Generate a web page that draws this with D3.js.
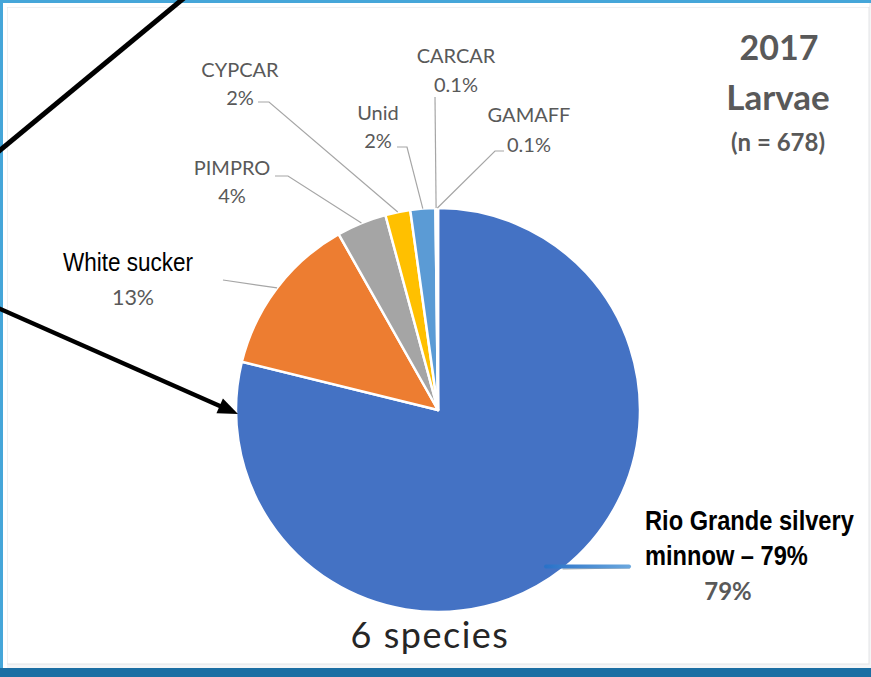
<!DOCTYPE html>
<html>
<head>
<meta charset="utf-8">
<script src="https://cdn.jsdelivr.net/npm/d3@7"></script>
<style>
  html, body { margin: 0; padding: 0; background: #ffffff; }
  svg { display: block; }
</style>
</head>
<body>
<svg id="chart" width="871" height="677"></svg>
<script>
// Larval fish catch composition, 2017
const species = ["Rio Grande silvery minnow", "White sucker", "PIMPRO", "CYPCAR", "Unid", "CARCAR", "GAMAFF"];
const percents = [79, 13, 4, 2, 2, 0.1, 0.1];
const percentLabels = ["79%", "13%", "4%", "2%", "2%", "0.1%", "0.1%"];
const sliceColors = ["#4472C4", "#ED7D31", "#A5A5A5", "#FFC000", "#5B9BD5", "#264478", "#9E480E"];

const titleLines = ["2017", "Larvae", "(n = 678)"];
const footnote = "6 species";

// Label placement: name/percent anchor and leader elbow for each slice
const labelLayout = [
  { x: 728, nameY: 530, pctY: 600, elbow: [[630, 568]] },
  { x: 133, nameY: 271, pctY: 305, elbow: [[223, 280]] },
  { x: 232, nameY: 175, pctY: 203, elbow: [[275, 176], [288, 176]] },
  { x: 240, nameY: 77,  pctY: 105, elbow: [[258, 102], [269, 102]] },
  { x: 378, nameY: 120, pctY: 148, elbow: [[397, 147], [407, 147]] },
  { x: 456, nameY: 63,  pctY: 92,  elbow: [[435, 97]] },
  { x: 529, nameY: 122, pctY: 152, elbow: [[504, 151], [495, 151]] }
];

const svg = d3.select("#chart");
const W = 871, H = 677;

// Slide frame
svg.append("rect").attr("x", 0).attr("y", 0).attr("width", W).attr("height", H).attr("fill", "#f4f5f6");
svg.append("rect").attr("x", 7).attr("y", 7).attr("width", 862).attr("height", 657)
  .attr("fill", "#ffffff").attr("stroke", "#e2e4e6").attr("stroke-width", 1);
svg.append("rect").attr("x", 0).attr("y", 668).attr("width", W).attr("height", 9).attr("fill", "#1b6ea3");
svg.append("rect").attr("x", 0).attr("y", 0).attr("width", W).attr("height", 3).attr("fill", "#45a6d9");
svg.append("rect").attr("x", 0).attr("y", 0).attr("width", 3).attr("height", 668).attr("fill", "#45a6d9");
svg.append("rect").attr("x", 3).attr("y", 3).attr("width", 4).attr("height", 665).attr("fill", "#ffffff");
svg.append("rect").attr("x", 3).attr("y", 3).attr("width", 866).attr("height", 4).attr("fill", "#ffffff");

// Pie
const cx = 438, cy = 410, R = 202;
const pie = d3.pie().sort(null).value(d => d.value).startAngle(0).endAngle(2 * Math.PI);
const rows = species.map((s, i) => ({ name: s, value: percents[i], label: percentLabels[i], color: sliceColors[i], layout: labelLayout[i] }));
const arcs = pie(rows);
const arc = d3.arc().innerRadius(0).outerRadius(R);

const g = svg.append("g").attr("transform", `translate(${cx},${cy})`);
g.selectAll("path.slice")
  .data(arcs)
  .join("path")
  .attr("class", "slice")
  .attr("d", arc)
  .attr("fill", d => d.data.color)
  .attr("stroke", "#ffffff")
  .attr("stroke-width", 2.5)
  .attr("stroke-linejoin", "round");

// Leader lines from the slice edge to its label
const edgePoint = d => {
  const a = (d.startAngle + d.endAngle) / 2;
  return [cx + R * Math.sin(a), cy - R * Math.cos(a)];
};
const line = d3.line();
svg.selectAll("path.leader")
  .data(arcs)
  .join("path")
  .attr("class", "leader")
  .attr("d", d => line([...d.data.layout.elbow, edgePoint(d)]))
  .attr("fill", "none")
  .attr("stroke", "#a6a6a6")
  .attr("stroke-width", 1.2);

// Selected leader highlight for the largest slice
const grad = svg.append("defs").append("linearGradient").attr("id", "selGrad")
  .attr("gradientUnits", "userSpaceOnUse")
  .attr("x1", 546).attr("x2", 629).attr("y1", 0).attr("y2", 0);
grad.append("stop").attr("offset", "0%").attr("stop-color", "#2a72c8");
grad.append("stop").attr("offset", "100%").attr("stop-color", "#6aa7de");
svg.append("line").attr("x1", 546).attr("y1", 566.5).attr("x2", 629).attr("y2", 566.5)
  .attr("stroke", "url(#selGrad)").attr("stroke-width", 4).attr("stroke-linecap", "round");

// Slice labels
const gray = "#595959";
const labels = svg.selectAll("g.lbl").data(arcs).join("g").attr("class", "lbl");
labels.filter((d, i) => i >= 2).append("text")
  .attr("x", d => d.data.layout.x).attr("y", d => d.data.layout.nameY)
  .attr("text-anchor", "middle").attr("font-family", "Lato, sans-serif")
  .attr("font-size", 20).attr("fill", gray).text(d => d.data.name);
labels.filter((d, i) => i >= 1).append("text")
  .attr("x", d => d.data.layout.x).attr("y", d => d.data.layout.pctY)
  .attr("text-anchor", "middle").attr("font-family", "Lato, sans-serif")
  .attr("font-size", d => d.index === 1 ? 21.5 : 20).attr("fill", gray).text(d => d.data.label);

// White sucker name label (narrow, tall sans)
svg.append("text")
  .attr("transform", `translate(128,${labelLayout[1].nameY}) scale(0.9,1)`)
  .attr("text-anchor", "middle").attr("font-family", "Liberation Sans, Arial, sans-serif")
  .attr("font-size", 25).attr("fill", "#000").text(species[1]);

// Rio Grande silvery minnow label
const rg = svg.append("text")
  .attr("transform", "translate(645,0) scale(0.86,1)")
  .attr("font-family", "Liberation Sans, Arial, sans-serif")
  .attr("font-size", 27.5).attr("font-weight", "bold").attr("fill", "#000");
rg.append("tspan").attr("x", 0).attr("y", 530).text("Rio Grande silvery");
rg.append("tspan").attr("x", 0).attr("y", 565).text("minnow \u2013 " + percentLabels[0]);
svg.append("text").attr("x", labelLayout[0].x).attr("y", labelLayout[0].pctY)
  .attr("text-anchor", "middle").attr("font-family", "Lato, sans-serif")
  .attr("font-size", 24).attr("font-weight", "bold").attr("fill", gray).text(percentLabels[0]);

// Title block
const title = svg.append("text").attr("text-anchor", "middle").attr("font-family", "Lato, sans-serif")
  .attr("font-weight", "bold").attr("fill", gray);
title.append("tspan").attr("x", 779).attr("y", 60).attr("font-size", 34).text(titleLines[0]);
title.append("tspan").attr("x", 778).attr("y", 110).attr("font-size", 35).text(titleLines[1]);
title.append("tspan").attr("x", 778).attr("y", 151).attr("font-size", 24).text(titleLines[2]);

// Footnote
svg.append("text").attr("x", 430).attr("y", 648).attr("text-anchor", "middle")
  .attr("font-family", "Lato, sans-serif").attr("letter-spacing", 1.5)
  .attr("font-size", 36).attr("fill", "#262626").text(footnote);

// Callout arrows
svg.append("line").attr("x1", 184).attr("y1", -2).attr("x2", -2).attr("y2", 152)
  .attr("stroke", "#000").attr("stroke-width", 5);
const ax0 = -2, ay0 = 308, ax1 = 238, ay1 = 414;
const ang = Math.atan2(ay1 - ay0, ax1 - ax0);
const headLen = 20, headHalf = 8;
const bx = ax1 - headLen * Math.cos(ang), by = ay1 - headLen * Math.sin(ang);
svg.append("line").attr("x1", ax0).attr("y1", ay0).attr("x2", bx + 2 * Math.cos(ang)).attr("y2", by + 2 * Math.sin(ang))
  .attr("stroke", "#000").attr("stroke-width", 4.5);
svg.append("path")
  .attr("d", line([[ax1, ay1],
    [bx - headHalf * Math.sin(ang), by + headHalf * Math.cos(ang)],
    [bx + headHalf * Math.sin(ang), by - headHalf * Math.cos(ang)]]) + "Z")
  .attr("fill", "#000");
</script>
</body>
</html>
